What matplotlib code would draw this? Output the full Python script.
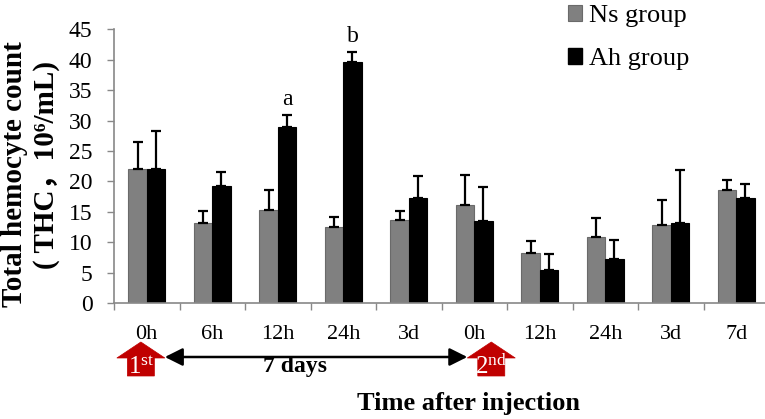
import matplotlib
matplotlib.use('Agg')
import matplotlib.pyplot as plt
import numpy as np
from matplotlib.patches import Polygon, Patch
from matplotlib.transforms import IdentityTransform

# ---------------- data ----------------
categories = ['0h', '6h', '12h', '24h', '3d', '0h', '12h', '24h', '3d', '7d']
ns_mean = [22.0, 13.1, 15.3, 12.5, 13.6, 16.1, 8.3, 10.8, 12.8, 18.6]
ns_sd = [4.4, 2.1, 3.2, 1.7, 1.6, 4.9, 1.9, 3.2, 4.1, 1.6]
ah_mean = [22.0, 19.2, 29.0, 39.6, 17.3, 13.4, 5.5, 7.2, 13.1, 17.3]
ah_sd = [6.2, 2.3, 1.9, 1.7, 3.6, 5.7, 2.5, 3.2, 8.7, 2.3]
sig_index = [2, 3]
sig_letters = ['a', 'b']
series_names = ['Ns group', 'Ah group']
y_ticks = [0, 5, 10, 15, 20, 25, 30, 35, 40, 45]

plt.rcParams['font.family'] = ['Liberation Serif', 'Noto Sans CJK SC', 'DejaVu Sans']
plt.rcParams['mathtext.fontset'] = 'custom'
plt.rcParams['mathtext.rm'] = 'Liberation Serif'

W, H = 765, 419
fig = plt.figure(figsize=(W / 100, H / 100), dpi=100)
ax = fig.add_axes([114 / W, 1 - 303 / H, 655 / W, (303 - 29.3) / H])

gray = '#808080'
x = np.arange(len(categories))
bw = 0.28
ax.bar(x - bw / 2, ns_mean, width=bw, color=gray, edgecolor='#6a6a6a', linewidth=0.8, zorder=2)
ax.bar(x + bw / 2, ah_mean, width=bw, color='black', edgecolor='black', linewidth=0.8, zorder=2)
ax.errorbar(x - bw / 2, ns_mean, yerr=[np.zeros(len(x)), ns_sd], fmt='none',
            ecolor='black', elinewidth=1.6, capsize=3.6, capthick=1.6, zorder=3)
ax.errorbar(x + bw / 2, ah_mean, yerr=[np.zeros(len(x)), ah_sd], fmt='none',
            ecolor='black', elinewidth=1.6, capsize=3.6, capthick=1.6, zorder=3)

for i, lab in zip(sig_index, sig_letters):
    ax.text(x[i] + bw / 2, ah_mean[i] + ah_sd[i] + 1.6, lab, ha='center', va='baseline',
            fontsize=17, clip_on=False)

ax.set_xlim(-0.5, len(categories) - 0.5)
ax.set_ylim(0, 45)
ax.set_yticks(y_ticks)
ax.set_yticklabels([str(t) for t in y_ticks], fontsize=17)
ax.set_xticks(x)
ax.set_xticklabels(categories, fontsize=16)
ax.set_xticks(np.arange(len(categories)) - 0.5, minor=True)
ax.tick_params(axis='x', which='major', length=0, pad=15.5)
ax.tick_params(axis='x', which='minor', length=5, width=1, color='#888888', direction='out')
ax.tick_params(axis='y', length=5, width=1, color='#888888', direction='out', pad=10.5)
for s in ['top', 'right']:
    ax.spines[s].set_visible(False)
for s in ['left', 'bottom']:
    ax.spines[s].set_color('#888888')
    ax.spines[s].set_linewidth(1.2)

# y label (two lines)
fig.text(22 / W, 1 - 174.5 / H, 'Total hemocyte count', rotation=90, rotation_mode='anchor',
         ha='center', va='baseline', fontsize=21, fontweight='bold')
fig.text(54 / W, 1 - 165 / H, '( THC，10⁶/mL)', rotation=90, rotation_mode='anchor',
         ha='center', va='baseline', fontsize=21, fontweight='bold')

# legend
handles = [Patch(facecolor=gray, edgecolor='#6a6a6a', linewidth=0.8),
           Patch(facecolor='black', edgecolor='black')]
fig.legend(handles, series_names, loc='upper left', bbox_to_anchor=(568 / W, 1 - 5 / H),
           frameon=False, fontsize=19, handlelength=0.53, handleheight=0.53,
           handletextpad=0.25, labelspacing=0.8, borderpad=0, borderaxespad=0)

# injection markers
fig.canvas.draw()
def disp_x(v):
    return ax.transData.transform((v, 0))[0]

red = '#C00000'
marker_pos = [0 - 0.09, 5 + 0.26]
marker_txt = [r'$\mathregular{1^{st}}$', r'$\mathregular{2^{nd}}$']
for cxv, t in zip(marker_pos, marker_txt):
    cx = disp_x(cxv)
    pts = [(cx, 342), (cx + 24, 358), (cx + 13.5, 358), (cx + 13.5, 376),
           (cx - 13.5, 376), (cx - 13.5, 358), (cx - 24, 358)]
    poly = Polygon([(px, H - py) for px, py in pts], closed=True, facecolor=red,
                   edgecolor=red, linewidth=0.5, transform=IdentityTransform())
    fig.patches.append(poly)
    fig.text(cx / W, 1 - 374 / H, t, ha='center', va='baseline', color='white', fontsize=18)

c1 = disp_x(marker_pos[0]) + 24
c2 = disp_x(marker_pos[1]) - 24
ax.annotate('', xy=(c2, H - 357), xytext=(c1, H - 357), xycoords='figure pixels',
            textcoords='figure pixels',
            arrowprops=dict(arrowstyle='<|-|>,head_length=0.9,head_width=0.45',
                            mutation_scale=12, color='black', lw=1.8,
                            shrinkA=0, shrinkB=0))
fig.text(((c1 + c2) / 2 - 21) / W, 1 - 372 / H, '7 days', ha='center', va='baseline',
         fontsize=17, fontweight='bold')
fig.text(468 / W, 1 - 410 / H, 'Time after injection', ha='center', va='baseline',
         fontsize=19, fontweight='bold')

fig.savefig('out.png', dpi=100)
